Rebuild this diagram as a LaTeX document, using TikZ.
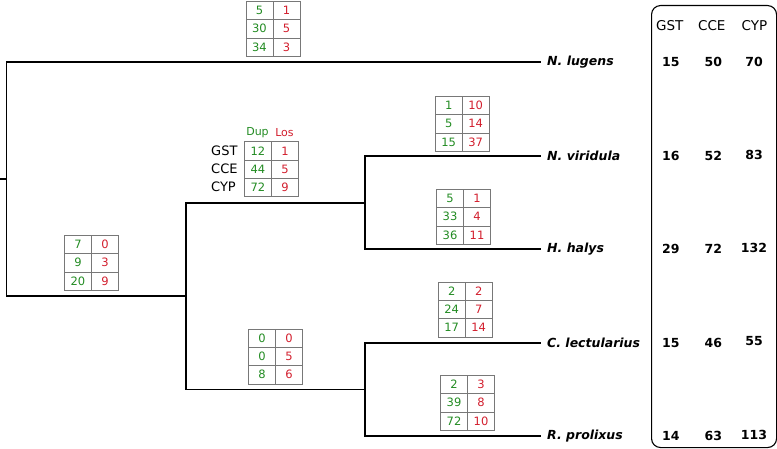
\documentclass[tikz,border=0pt]{standalone}
\usepackage{fontspec}
\setmainfont{DejaVu Sans}
\usetikzlibrary{matrix}
\definecolor{dupgreen}{RGB}{34,139,34}
\definecolor{losred}{RGB}{210,30,45}
\definecolor{gridgray}{RGB}{120,120,120}
\begin{document}
\begin{tikzpicture}[x=1pt,y=1pt,
  tree/.style={line width=1.2pt, line join=miter},
  dltable/.style={matrix of nodes, anchor=north west, inner sep=0pt,
    column sep=-0.6pt, row sep=-0.6pt,
    nodes={draw=gridgray, line width=0.6pt, minimum width=27pt, minimum height=18.2pt,
      inner sep=0pt, anchor=center, font=\fontsize{11.5}{12}\selectfont},
    column 1/.style={nodes={text=dupgreen}},
    column 2/.style={nodes={text=losred}}},
  species/.style={anchor=west, inner xsep=6pt, inner ysep=0pt,
    font=\fontsize{12.5}{14}\selectfont\bfseries\itshape},
  hdr/.style={inner sep=0pt, font=\fontsize{13.5}{15}\selectfont},
  cnt/.style={inner sep=0pt, font=\fontsize{12.5}{14}\selectfont\bfseries},
  rowlab/.style={anchor=west, inner sep=0pt, font=\fontsize{13}{15}\selectfont},
  collab/.style={inner sep=0pt, font=\fontsize{11}{13}\selectfont}]
\useasboundingbox (0,0) rectangle (777,-449);

% tree coordinates
\coordinate (stub) at (0,-179);
\coordinate (r) at (6.7,-179);
\coordinate (a) at (186,-296);
\coordinate (b) at (365,-203);
\coordinate (c) at (365,-389.5);

% species labels
\node[species] (nl) at (541,-62) {N. lugens};
\node[species] (nv) at (541,-156) {N. viridula};
\node[species] (hh) at (541,-249) {H. halys};
\node[species] (cl) at (541,-343) {C. lectularius};
\node[species] (rp) at (541,-436) {R. prolixus};

% branches
\draw[tree] (stub) -- (r);
\draw[tree] (r) |- (nl.west);
\draw[tree] (r) |- (a);
\draw[tree] (a) |- (b);
\draw[tree] (a) |- (c);
\draw[tree] (b) |- (nv.west);
\draw[tree] (b) |- (hh.west);
\draw[tree] (c) |- (cl.west);
\draw[tree] (c) |- (rp.west);

% duplication / loss tables
\matrix[dltable] (tnl) at (245.5,-1) {5 & 1 \\ 30 & 5 \\ 34 & 3 \\};
\matrix[dltable] (tb) at (244,-141.3) {12 & 1 \\ 44 & 5 \\ 72 & 9 \\};
\matrix[dltable] (ta) at (64,-235) {7 & 0 \\ 9 & 3 \\ 20 & 9 \\};
\matrix[dltable] (tc) at (248,-328.7) {0 & 0 \\ 0 & 5 \\ 8 & 6 \\};
\matrix[dltable] (tnv) at (434.7,-96) {1 & 10 \\ 5 & 14 \\ 15 & 37 \\};
\matrix[dltable] (thh) at (436,-189) {5 & 1 \\ 33 & 4 \\ 36 & 11 \\};
\matrix[dltable] (tcl) at (437.7,-281.7) {2 & 2 \\ 24 & 7 \\ 17 & 14 \\};
\matrix[dltable] (trp) at (440,-375) {2 & 3 \\ 39 & 8 \\ 72 & 10 \\};

% legend on table tb
\node[collab, text=dupgreen] (ldup) at (257.5,-132.3) {Dup};
\node[collab, text=losred] (llos) at (284.5,-132.3) {Los};
\node[rowlab] (rgst) at (211,-150.3) {GST};
\node[rowlab] (rcce) at (211,-168.6) {CCE};
\node[rowlab] (rcyp) at (211,-186.7) {CYP};

% counts panel
\node[draw, line width=1.1pt, rounded corners=9pt, minimum width=125pt, minimum height=442pt,
  anchor=north west, inner sep=0pt] (panel) at (651,-5) {};
\node[hdr] (hgst) at (669.7,-25.7) {GST};
\node[hdr] (hcce) at (711.8,-25.7) {CCE};
\node[hdr] (hcyp) at (754.5,-25.7) {CYP};

\node[cnt] at (670.8,-62) {15};  \node[cnt] at (713.3,-62) {50};  \node[cnt] at (754,-62) {70};
\node[cnt] at (670.8,-156) {16}; \node[cnt] at (713.3,-156) {52}; \node[cnt] at (754,-154.5) {83};
\node[cnt] at (670.8,-249) {29}; \node[cnt] at (713.3,-249) {72}; \node[cnt] at (754,-247.5) {132};
\node[cnt] at (670.8,-343) {15}; \node[cnt] at (713.3,-343) {46}; \node[cnt] at (754,-341.5) {55};
\node[cnt] at (670.8,-436) {14}; \node[cnt] at (713.3,-436) {63}; \node[cnt] at (754,-434.5) {113};
\end{tikzpicture}
\end{document}
